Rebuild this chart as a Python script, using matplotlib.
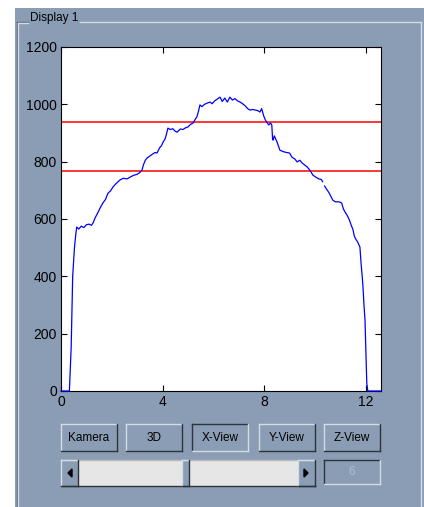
import numpy as np
import matplotlib.pyplot as plt
from matplotlib.patches import Rectangle

# profile (x in mm-ish units, intensity)
prof_x = [0.0, 0.33, 0.40, 0.46, 0.53, 0.58, 0.62, 0.70, 0.80, 0.90, 1.00, 1.10, 1.20, 1.26,
          1.35, 1.45, 1.55, 1.65, 1.75, 1.85, 1.95, 2.05, 2.15, 2.25, 2.32, 2.45, 2.60,
          2.72, 2.85, 3.00, 3.10, 3.19, 3.25, 3.32, 3.39, 3.50, 3.60, 3.70, 3.78, 3.88,
          3.95, 4.02, 4.10, 4.15, 4.21, 4.30, 4.40, 4.50, 4.57, 4.70, 4.80, 4.90, 5.00,
          5.10, 5.20, 5.30, 5.35, 5.42, 5.47, 5.55, 5.65, 5.75, 5.87, 5.95, 6.05, 6.15,
          6.26, 6.35, 6.45, 6.55, 6.65, 6.75, 6.85, 6.95, 7.05, 7.15, 7.25, 7.35, 7.44,
          7.55, 7.65, 7.75, 7.83, 7.90, 7.98, 8.05, 8.10, 8.18, 8.25, 8.30, 8.33, 8.35,
          8.40, 8.50, 8.62, 8.75, 8.88, 9.00, 9.10, 9.20, 9.30, 9.40, 9.50, 9.60, 9.70,
          9.80, 9.92, 10.05, 10.15, 10.25, 10.30, np.nan, 10.38, 10.45, 10.55, 10.62,
          10.70, 10.80, 10.95, 11.05, 11.12, 11.20, 11.26, 11.35, 11.42, 11.50, 11.55,
          11.62, 11.68, 11.77, 11.82, 11.86, 11.89, 11.93, 11.97, 12.00, 12.04, 12.08,
          12.60]
prof_y = [0, 0, 150, 400, 500, 545, 572, 565, 575, 570, 580, 582, 578, 586,
          605, 622, 640, 656, 668, 690, 698, 712, 722, 730, 736, 742, 740,
          746, 752, 756, 762, 771, 790, 805, 813, 820, 826, 832, 830, 848,
          855, 868, 880, 895, 917, 912, 915, 906, 903, 914, 912, 918, 921,
          930, 935, 950, 956, 978, 998, 992, 1000, 1004, 1008, 1002, 1012, 1018,
          1025, 1010, 1022, 1008, 1025, 1015, 1020, 1012, 1008, 1002, 995, 985, 980,
          982, 980, 978, 973, 985, 960, 945, 938, 928, 935, 928, 880, 875,
          890, 870, 840, 835, 832, 830, 815, 810, 799, 805, 795, 788, 781,
          770, 753, 745, 740, 738, 730, np.nan, 715, 705, 692, 680,
          666, 660, 660, 656, 635, 622, 614, 598, 580, 562, 540,
          528, 520, 502, 440, 400, 363, 300, 248, 150, 28, 0,
          0]
# threshold lines
levels = [938, 767]

xticks = [0, 4, 8, 12]
yticks = [0, 200, 400, 600, 800, 1000, 1200]
buttons = ['Kamera', '3D', 'X-View', 'Y-View', 'Z-View']
slider_value = '6'

W, H = 424, 507
panel = '#8a9db5'
light = '#d4dce6'
dark = '#2e343c'
mid = '#5f6d7e'

fig = plt.figure(figsize=(W / 100, H / 100), dpi=100)
fig.patch.set_facecolor('white')

# background layer in pixel coords
bg = fig.add_axes([0, 0, 1, 1])
bg.set_xlim(0, W)
bg.set_ylim(H, 0)
bg.axis('off')

bg.add_patch(Rectangle((15, 8), W - 15, H - 8, facecolor=panel, edgecolor='none'))
# etched frame
bg.plot([17, 28], [22, 22], color=mid, lw=1)
bg.plot([18, 28], [23, 23], color=light, lw=1)
bg.plot([80, 421], [22, 22], color=light, lw=1)
bg.plot([17, 17], [22, H], color=mid, lw=1)
bg.plot([18, 18], [23, H], color=light, lw=1)
bg.plot([421, 421], [22, H], color=light, lw=1)
bg.text(30, 18, 'Display 1', fontsize=8.5, family='Liberation Sans', va='center', ha='left',
        color='black')


def bevel(x0, y0, w, h, pressed=False):
    bg.add_patch(Rectangle((x0, y0), w, h, facecolor=panel, edgecolor='none'))
    tl, br = (dark, light) if pressed else (light, dark)
    bg.plot([x0, x0 + w], [y0, y0], color=tl, lw=1)
    bg.plot([x0, x0], [y0, y0 + h], color=tl, lw=1)
    bg.plot([x0, x0 + w], [y0 + h, y0 + h], color=br, lw=1)
    bg.plot([x0 + w, x0 + w], [y0, y0 + h], color=br, lw=1)


bx = [61, 126, 192, 259, 324]
for x0, name in zip(bx, buttons):
    pressed = name == 'X-View'
    bevel(x0, 424, 56, 27, pressed)
    bg.text(x0 + 28, 438, name, fontsize=8.5, family='Liberation Sans', ha='center', va='center')

# slider
bg.add_patch(Rectangle((61, 460), 254, 26, facecolor='#e6e6e6', edgecolor='none'))
bg.plot([61, 315], [460, 460], color='#b8b8b8', lw=1)
bg.plot([61, 315], [486, 486], color=dark, lw=1)
bevel(61, 460, 17, 26)
bevel(298, 460, 17, 26)
bevel(182, 460, 7, 26)
bg.fill([72, 68, 72], [469, 473, 477], color='black')
bg.fill([304, 308, 304], [469, 473, 477], color='black')
bevel(324, 460, 56, 24, pressed=True)
bg.text(352, 472, slider_value, fontsize=8.5, family='Liberation Sans', ha='center', va='center',
        color='#b0bccb')

# plot axes
ax = fig.add_axes([61 / W, 1 - 391 / H, 320 / W, 344 / H])
ax.set_facecolor('white')
ax.plot(prof_x, prof_y, color='blue', lw=0.9, clip_on=False, zorder=3)
for lv in levels:
    ax.axhline(lv, color='red', lw=1.1)
ax.set_xlim(0, 12.6)
ax.set_ylim(0, 1200)
ax.set_xticks(xticks)
ax.set_yticks(yticks)
ax.tick_params(direction='in', length=4, width=0.8, top=True, right=True,
               labelsize=10, colors='black', pad=3)
for lab in ax.get_xticklabels() + ax.get_yticklabels():
    lab.set_family('Liberation Sans')
for s in ax.spines.values():
    s.set_linewidth(0.8)

fig.savefig('out.png', dpi=100)
